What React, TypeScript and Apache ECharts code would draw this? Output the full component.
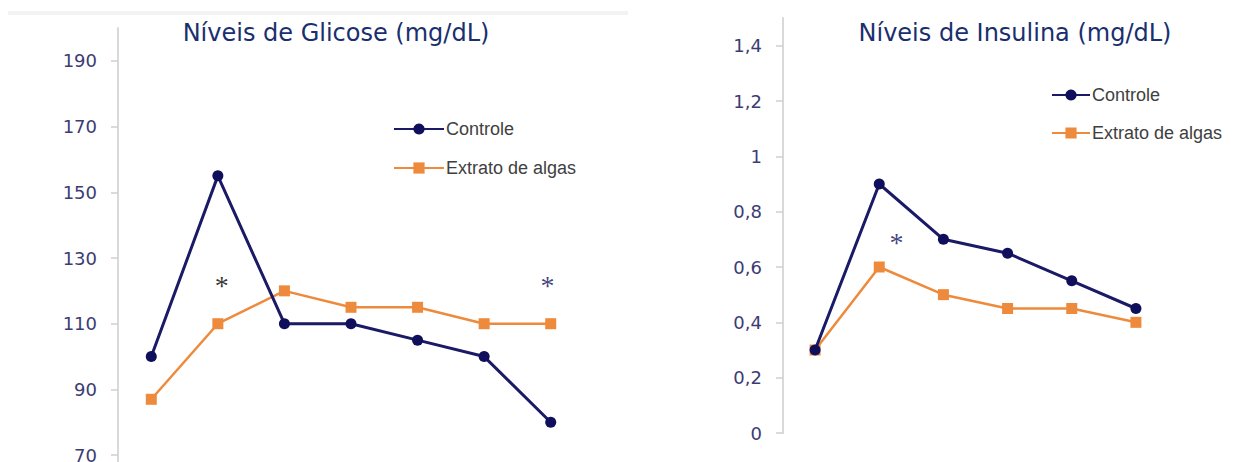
import React, { useEffect, useRef } from "react";
import * as echarts from "echarts";

// ---- data ----
const glucoseCategories = ["1", "2", "3", "4", "5", "6", "7"];
const glucoseControle = [100, 155, 110, 110, 105, 100, 80];
const glucoseAlgas = [87, 110, 120, 115, 115, 110, 110];
const glucoseTicks = [70, 90, 110, 130, 150, 170, 190];
const glucoseStarBlack = [[1.06, 121.5]];
const glucoseStarBlue = [[5.95, 121.5]];

const insulinCategories = ["1", "2", "3", "4", "5", "6"];
const insulinControle = [0.3, 0.9, 0.7, 0.65, 0.55, 0.45];
const insulinAlgas = [0.3, 0.6, 0.5, 0.45, 0.45, 0.4];
const insulinTicks = [0, 0.2, 0.4, 0.6, 0.8, 1, 1.2, 1.4];
const insulinStarBlue = [[1.27, 0.69]];

const seriesNames = ["Controle", "Extrato de algas"];
const titles = ["Níveis de Glicose (mg/dL)", "Níveis de Insulina (mg/dL)"];

const NAVY = "#0f0f5c";
const NAVY_LINE = "#1a1a66";
const ORANGE = "#ee8a3c";
const TITLE = "#1a2f6e";
const LABEL = "#3c3c74";

function yAxisBase(gridIndex: number, min: number, max: number, ticks: number[], fmt?: (v: number) => string) {
  return {
    type: "value",
    gridIndex,
    min,
    max,
    splitLine: { show: false },
    axisLine: { show: true, onZero: false, lineStyle: { color: "#d9d9d9", width: 2 } },
    axisTick: { show: true, customValues: ticks, length: 7, lineStyle: { color: "#cfcfcf", width: 1.5 } },
    axisLabel: {
      customValues: ticks,
      margin: 21,
      color: LABEL,
      fontSize: 18,
      fontFamily: "DejaVu Sans",
      formatter: fmt,
    },
  };
}

function hiddenCat(gridIndex: number, data: string[]) {
  return {
    type: "category",
    gridIndex,
    data,
    boundaryGap: true,
    axisLine: { show: false, onZero: false },
    axisTick: { show: false },
    axisLabel: { show: false },
    splitLine: { show: false },
  };
}

function hiddenVal(gridIndex: number, n: number) {
  return {
    type: "value",
    gridIndex,
    min: -0.5,
    max: n - 0.5,
    show: false,
    axisLine: { show: false, onZero: false },
    splitLine: { show: false },
  };
}

function lineSeries(name: string, data: number[], xi: number, yi: number, isCtrl: boolean) {
  return {
    type: "line",
    name,
    data,
    xAxisIndex: xi,
    yAxisIndex: yi,
    symbol: isCtrl ? "circle" : "rect",
    symbolSize: 11,
    showSymbol: true,
    lineStyle: { color: isCtrl ? NAVY_LINE : ORANGE, width: isCtrl ? 3 : 2.5 },
    itemStyle: { color: isCtrl ? NAVY : ORANGE },
    z: isCtrl ? 3 : 2,
  };
}

function starSeries(data: number[][], xi: number, yi: number, color: string) {
  return {
    type: "scatter",
    data,
    xAxisIndex: xi,
    yAxisIndex: yi,
    symbolSize: 1,
    itemStyle: { color: "rgba(0,0,0,0)" },
    silent: true,
    label: {
      show: true,
      position: "inside",
      formatter: "*",
      fontSize: 28,
      fontFamily: "Liberation Serif",
      color,
    },
  };
}

function legendAt(left: number, top: number, itemWidth: number, gap: number) {
  return {
    data: seriesNames,
    orient: "vertical",
    left,
    top,
    padding: 0,
    itemWidth,
    itemHeight: 14,
    itemGap: gap,
    selectedMode: false,
    textStyle: { fontSize: 18, color: "#404040", fontFamily: "Liberation Sans", padding: [0, 0, 0, -3] },
  };
}

export default function App() {
  const ref = useRef<HTMLDivElement>(null);
  useEffect(() => {
    if (!ref.current) return;
    const chart = echarts.init(ref.current, null, { renderer: "svg" });
    const fmtComma = (v: number) => String(v).replace(".", ",");
    chart.setOption({
      animation: false,
      backgroundColor: "#ffffff",
      grid: [
        { left: 118, top: 28, width: 466, height: 460 },
        { left: 783, top: 18, width: 385, height: 415 },
      ],
      xAxis: [
        hiddenCat(0, glucoseCategories),
        hiddenCat(1, insulinCategories),
        hiddenVal(0, glucoseCategories.length),
        hiddenVal(1, insulinCategories.length),
      ],
      yAxis: [yAxisBase(0, 60, 200, glucoseTicks), yAxisBase(1, 0, 1.5, insulinTicks, fmtComma)],
      legend: [legendAt(393, 120, 50, 21), legendAt(1051, 86, 38, 20)],
      graphic: [
        { type: "rect", shape: { x: 8, y: 11, width: 620, height: 4 }, style: { fill: "#f3f3f3" }, silent: true },
        {
          type: "text",
          x: 336,
          y: 33,
          style: { text: titles[0], align: "center", verticalAlign: "middle", fontSize: 24, fontFamily: "DejaVu Sans", fill: TITLE },
        },
        {
          type: "text",
          x: 1015,
          y: 33,
          style: { text: titles[1], align: "center", verticalAlign: "middle", fontSize: 24, fontFamily: "DejaVu Sans", fill: TITLE },
        },
      ],
      series: [
        lineSeries(seriesNames[0], glucoseControle, 0, 0, true),
        lineSeries(seriesNames[1], glucoseAlgas, 0, 0, false),
        lineSeries(seriesNames[0], insulinControle, 1, 1, true),
        lineSeries(seriesNames[1], insulinAlgas, 1, 1, false),
        starSeries(glucoseStarBlack, 2, 0, "#000000"),
        starSeries(glucoseStarBlue, 2, 0, NAVY),
        starSeries(insulinStarBlue, 3, 1, NAVY),
      ],
    });
    return () => chart.dispose();
  }, []);
  return (
    <div style={{ position: "fixed", left: 0, top: 0, width: 1234, height: 462, overflow: "hidden", background: "#fff" }}>
      <div ref={ref} style={{ position: "absolute", left: 0, top: 0, width: 1234, height: 530 }} />
    </div>
  );
}
